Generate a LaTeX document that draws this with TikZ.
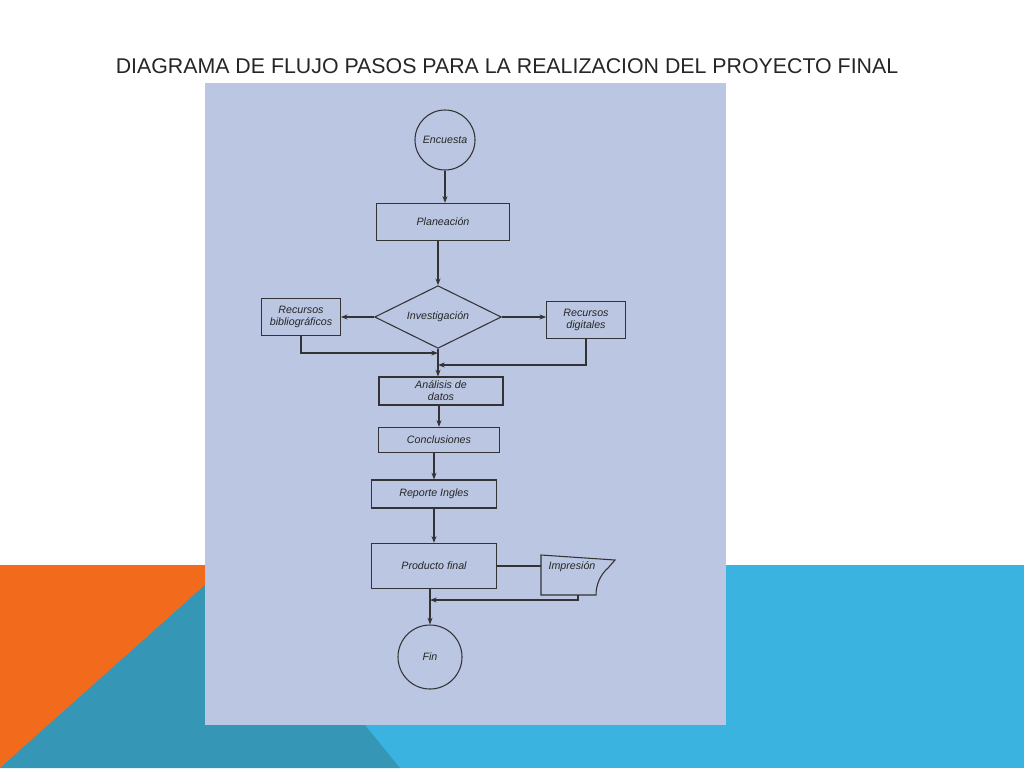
\documentclass[tikz,border=0pt]{standalone}
\usepackage{fontspec}
\setmainfont{Liberation Sans}
\usetikzlibrary{shapes.geometric,arrows.meta}
\begin{document}
\begin{tikzpicture}[x=0.75pt,y=-0.75pt,
  ink/.style={draw=black!80,line width=0.8pt},
  boxn/.style={ink,rectangle,inner sep=0pt},
  lbl/.style={font=\itshape\fontsize{8}{9}\selectfont,text=black!85,align=center},
  arr/.style={ink,-{Stealth[length=5pt]}}]
\definecolor{paper}{HTML}{BAC6E2}
\definecolor{org}{HTML}{F26B1D}
\definecolor{teal}{HTML}{3597B5}
\definecolor{lblue}{HTML}{3BB3E0}
\useasboundingbox (0,0) rectangle (1024,768);
\fill[white] (0,0) rectangle (1024,768);
\fill[org] (0,565) rectangle (205,768);
\fill[teal] (0,768) -- (205,585) -- (205,768) -- cycle;
\fill[lblue] (726,565) rectangle (1024,768);
\fill[lblue] (365,725) rectangle (726,768);
\fill[teal] (205,725) -- (365,725) -- (400,768) -- (205,768) -- cycle;
\node[font=\fontsize{16}{19}\selectfont,text=black!85] (title) at (507,66) {DIAGRAMA DE FLUJO PASOS PARA LA REALIZACION DEL PROYECTO FINAL};
\fill[paper] (205,83) rectangle (726,725);

\node[ink,circle,minimum size=45pt,lbl] (enc) at (445,140) {Encuesta};
\node[boxn,minimum width=100pt,minimum height=28pt,lbl] (plan) at (443,222) {Planeación};
\node[ink,diamond,aspect=2,minimum width=95pt,minimum height=47pt,inner sep=0pt,lbl] (inv) at (438,317) {Investigación};
\node[boxn,minimum width=59pt,minimum height=28pt,lbl] (rb) at (301,317) {Recursos\\bibliográficos};
\node[boxn,minimum width=59pt,minimum height=28pt,lbl] (rd) at (586,320) {Recursos\\digitales};
\node[boxn,minimum width=93pt,minimum height=21pt,lbl] (ana) at (441,391) {Análisis de\\datos};
\node[boxn,minimum width=91pt,minimum height=19pt,lbl] (con) at (439,440) {Conclusiones};
\node[boxn,minimum width=94pt,minimum height=21pt,lbl] (rep) at (434,494) {Reporte Ingles};
\node[boxn,minimum width=94pt,minimum height=34pt,lbl] (prod) at (434,566) {Producto final};
\node[inner sep=0pt,minimum width=55pt,minimum height=28pt] (imp) at (575,575) {};
\draw[ink] (541,555) -- (615,560) -- (608,568) .. controls (600,575) and (596,585) .. (596,595) -- (541,595) -- cycle;
\node[lbl] (impt) at (572,567) {Impresión};
\node[ink,circle,minimum size=48pt,lbl] (fin) at (430,657) {Fin};

\draw[arr] (enc) -- (enc.south |- plan.north);
\draw[arr] (plan.south -| inv.north) -- (inv.north);
\draw[arr] (inv.west) -- (rb.east |- inv.west);
\draw[arr] (inv.east) -- (rd.west |- inv.east);
\coordinate (j1) at (438,353);
\coordinate (j2) at (438,365);
\draw[arr] (rb.south) -- (rb.south |- j1) -- (j1);
\draw[arr] (rd.south) -- (rd.south |- j2) -- (j2);
\draw[arr] (inv.south) -- (inv.south |- ana.north);
\draw[arr] (ana.south -| con.north) -- (con.north);
\draw[arr] (con.south -| rep.north) -- (rep.north);
\draw[arr] (rep.south -| prod.north) -- (prod.north);
\draw[ink] (prod.east) -- (541,566);
\coordinate (j3) at (430,600);
\draw[arr] (578,595) -- (578,600) -- (j3);
\draw[arr] (prod.south -| fin.north) -- (fin.north);
\end{tikzpicture}
\end{document}
